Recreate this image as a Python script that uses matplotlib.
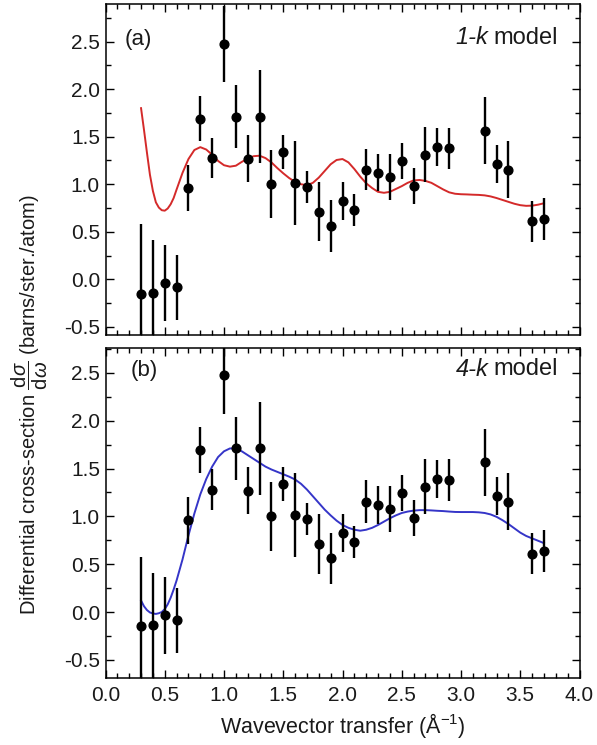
import matplotlib
matplotlib.use('Agg')
import matplotlib.pyplot as plt
from matplotlib.ticker import MultipleLocator

plt.rcParams['font.family'] = ['Liberation Sans', 'DejaVu Sans']
plt.rcParams['mathtext.fontset'] = 'custom'
plt.rcParams['mathtext.rm'] = 'Liberation Sans'
plt.rcParams['mathtext.it'] = 'Liberation Sans:italic'
plt.rcParams['mathtext.bf'] = 'Liberation Sans:bold'
plt.rcParams['axes.unicode_minus'] = False

# ---- data ----
q = [0.3, 0.4, 0.5, 0.6, 0.7, 0.8, 0.9, 1.0, 1.1, 1.2, 1.3, 1.4, 1.5, 1.6, 1.7, 1.8,
     1.9, 2.0, 2.1, 2.2, 2.3, 2.4, 2.5, 2.6, 2.7, 2.8, 2.9, 3.2, 3.3, 3.4, 3.6, 3.7]
sigma = [-0.15, -0.14, -0.035, -0.085, 0.96, 1.69, 1.28, 2.475, 1.71, 1.27,
         1.71, 1.0, 1.34, 1.01, 0.97, 0.71, 0.56, 0.825, 0.73, 1.155, 1.12, 1.075,
         1.245, 0.98, 1.31, 1.39, 1.38, 1.565, 1.215, 1.155, 0.61, 0.635]
err = [0.73, 0.55, 0.40, 0.34, 0.245, 0.24, 0.21, 0.40, 0.33, 0.245,
       0.49, 0.36, 0.18, 0.44, 0.165, 0.31, 0.27, 0.20, 0.17, 0.22, 0.195, 0.24,
       0.185, 0.19, 0.29, 0.2, 0.215, 0.35, 0.2, 0.295, 0.215, 0.22]

model_q = [0.30, 0.325, 0.35, 0.375, 0.40, 0.425, 0.45, 0.475, 0.50, 0.525,
           0.55, 0.575, 0.60, 0.65, 0.70, 0.75,
           0.80, 0.85, 0.90, 0.95, 1.00, 1.05, 1.10, 1.15, 1.20, 1.25,
           1.30, 1.35, 1.40, 1.45, 1.50, 1.55, 1.60, 1.65, 1.70, 1.75,
           1.80, 1.85, 1.90, 1.95, 2.00, 2.05, 2.10, 2.15, 2.20, 2.25,
           2.30, 2.35, 2.40, 2.45, 2.50, 2.55, 2.60, 2.65, 2.70, 2.75,
           2.80, 2.85, 2.90, 2.95, 3.00, 3.05, 3.10, 3.15, 3.20, 3.25,
           3.30, 3.35, 3.40, 3.45, 3.50, 3.55, 3.60, 3.65, 3.70]
model_1k = [1.80, 1.57, 1.33, 1.10, 0.93, 0.81, 0.755, 0.727, 0.722, 0.745,
            0.79, 0.855, 0.945, 1.12, 1.265, 1.36,
            1.39, 1.365, 1.31, 1.245, 1.20, 1.185, 1.195, 1.235, 1.27, 1.295,
            1.30, 1.275, 1.23, 1.17, 1.115, 1.065, 1.025, 1.00, 0.99, 1.015,
            1.07, 1.14, 1.21, 1.255, 1.265, 1.23, 1.16, 1.08, 1.01, 0.96,
            0.92, 0.91, 0.92, 0.95, 0.98, 1.015, 1.04, 1.045, 1.035, 1.015,
            0.98, 0.945, 0.915, 0.90, 0.895, 0.893, 0.89, 0.888, 0.883, 0.872,
            0.855, 0.835, 0.815, 0.795, 0.78, 0.773, 0.775, 0.785, 0.80]
model_4k = [0.12, 0.06, 0.02, -0.005, -0.015, -0.02, -0.013, 0.0, 0.03, 0.08,
            0.15, 0.235, 0.33, 0.55, 0.80, 1.03,
            1.23, 1.39, 1.52, 1.62, 1.68, 1.71, 1.71, 1.68, 1.64, 1.60,
            1.56, 1.52, 1.49, 1.465, 1.44, 1.415, 1.385, 1.34, 1.28, 1.21,
            1.14, 1.07, 1.01, 0.955, 0.91, 0.88, 0.86, 0.85, 0.86, 0.88,
            0.91, 0.945, 0.98, 1.01, 1.035, 1.05, 1.06, 1.065, 1.065, 1.062,
            1.058, 1.055, 1.05, 1.046, 1.045, 1.045, 1.045, 1.042, 1.035, 1.02,
            0.995, 0.96, 0.92, 0.875, 0.83, 0.795, 0.77, 0.745, 0.72]

x_ticks = [0.0, 0.5, 1.0, 1.5, 2.0, 2.5, 3.0, 3.5, 4.0]
x_ticklabels = ['0.0', '0.5', '1.0', '1.5', '2.0', '2.5', '3.0', '3.5', '4.0']
y_ticks = [-0.5, 0.0, 0.5, 1.0, 1.5, 2.0, 2.5]
y_ticklabels = ['-0.5', '0.0', '0.5', '1.0', '1.5', '2.0', '2.5']

# ---- figure ----
W, H = 597, 745
fig = plt.figure(figsize=(W / 100, H / 100), dpi=100)
L, R = 105.5, 579.5
ax1 = fig.add_axes([L / W, 1 - 335 / H, (R - L) / W, (335 - 4) / H])
ax2 = fig.add_axes([L / W, 1 - 678 / H, (R - L) / W, (678 - 348) / H])

txt = '#1a1a1a'
panels = [
    (ax1, model_1k, '#d42a2a', '(a)', 0.165, '1-k', (-0.585, 2.895)),
    (ax2, model_4k, '#3535c8', '(b)', 0.215, '4-k', (-0.69, 2.76)),
]
for ax, model, col, lab, labx, mname, ylim in panels:
    ax.plot(model_q, model, color=col, lw=1.4, zorder=2)
    ax.errorbar(q, sigma, yerr=err, fmt='o', color='black', ms=6.3,
                elinewidth=1.7, capsize=0, zorder=3)
    ax.set_xlim(0, 4.0)
    ax.set_ylim(*ylim)
    ax.set_yticks(y_ticks)
    ax.set_yticklabels(y_ticklabels)
    ax.set_xticks(x_ticks)
    ax.xaxis.set_minor_locator(MultipleLocator(0.1))
    ax.yaxis.set_minor_locator(MultipleLocator(0.25))
    ax.tick_params(which='both', direction='in', top=True, right=True,
                   width=1.0, colors='black', labelcolor=txt, labelsize=15)
    ax.tick_params(which='major', length=5.5)
    ax.tick_params(which='minor', length=3.5)
    ax.tick_params(axis='y', pad=4)
    ax.tick_params(axis='x', pad=6)
    for s in ax.spines.values():
        s.set_linewidth(1.1)
    ax.text(labx, 2.52, lab, fontsize=16, color=txt, ha='left', va='center')
    ax.annotate('model', xy=(3.82, 2.54), xycoords='data', fontsize=17,
                color=txt, ha='right', va='center')
    ax.annotate(mname, xy=(3.82, 2.54), xycoords='data', xytext=(-50, 0),
                textcoords='offset points', fontsize=17, color=txt,
                style='italic', ha='right', va='center')

ax1.set_xticklabels([])
ax2.set_xticklabels(x_ticklabels)
ax2.set_xlabel('Wavevector transfer (Å$^{-1}$)', fontsize=15.5, color=txt,
               labelpad=4)

fig.text(30 / W, 1 - 405 / H,
         r'Differential cross-section $\dfrac{\mathrm{d}\sigma}{\mathrm{d}\omega}$ (barns/ster./atom)',
         rotation=90, ha='center', va='center', fontsize=14.5, color=txt)

fig.savefig('out.png', dpi=100)
